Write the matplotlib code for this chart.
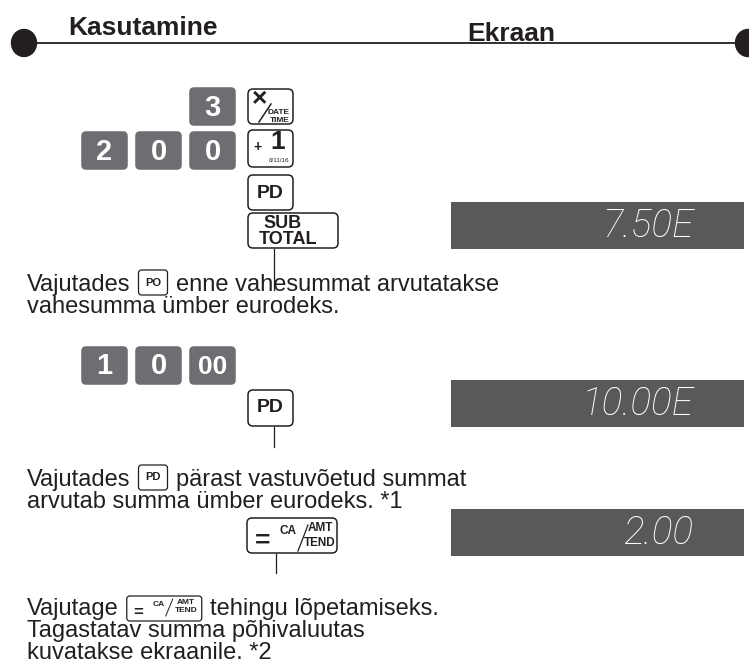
import matplotlib
matplotlib.use("Agg")
import matplotlib.pyplot as plt
from matplotlib.patches import FancyBboxPatch, Ellipse, Rectangle

# texts read from the page
header_left = "Kasutamine"
header_right = "Ekraan"
keys_row1 = ["3"]
keys_row2 = ["2", "0", "0"]
keys_row3 = ["1", "0", "00"]
display_values = ["7.50E", "10.00E", "2.00"]
para1 = [["Vajutades", ("PO",), "enne vahesummat arvutatakse"],
         ["vahesumma ümber eurodeks."]]
para2 = [["Vajutades", ("PD",), "pärast vastuvõetud summat"],
         ["arvutab summa ümber eurodeks. *1"]]
para3 = [["Vajutage", ("CA",), "tehingu lõpetamiseks."],
         ["Tagastatav summa põhivaluutas"],
         ["kuvatakse ekraanile. *2"]]

INK = "#231f20"
KEY_DARK = "#6d6e71"
LCD = "#58595b"
BODY = dict(family="Liberation Sans", fontsize=17, color=INK)

fig = plt.figure(figsize=(7.49, 6.66), dpi=100)
ax = fig.add_axes([0, 0, 1, 1])
ax.set_xlim(0, 749)
ax.set_ylim(666, 0)
ax.axis("off")
renderer = fig.canvas.get_renderer()

# header
ax.plot([24, 748], [43, 43], color=INK, lw=1.3)
ax.add_patch(Ellipse((24, 43), 25, 27, color=INK))
ax.add_patch(Ellipse((748, 43), 25, 27, color=INK))
ax.text(68, 35, header_left, family="Liberation Sans", fontweight="bold",
        fontsize=19, color=INK, va="baseline")
ax.text(467, 41, header_right, family="Liberation Sans", fontweight="bold",
        fontsize=19, color=INK, va="baseline")


def rbox(x, y, w, h, fill="white", edge=INK, r=5, lw=1.1):
    ax.add_patch(FancyBboxPatch((x, y), w, h,
                                boxstyle=f"round,pad=0,rounding_size={r}",
                                fc=fill, ec=edge, lw=lw))


def dark_key(x, y, label):
    rbox(x, y, 45, 37, fill=KEY_DARK, edge=KEY_DARK, r=4)
    size = 21 if len(label) == 1 else 19
    ax.text(x + 22.5, y + 19.5, label, family="Liberation Sans", fontweight="bold",
            fontsize=size, color="white", ha="center", va="center")


cols = [82, 136, 190]
for lab in keys_row1:
    dark_key(cols[2], 88, lab)
for cx, lab in zip(cols, keys_row2):
    dark_key(cx, 132, lab)
for cx, lab in zip(cols, keys_row3):
    dark_key(cx, 347, lab)

SMALL = dict(family="Liberation Sans", fontweight="bold", color=INK)

# x / DATE TIME key
rbox(248, 89, 45, 35)
ax.text(260, 99, "×", fontsize=19, ha="center", va="center", **SMALL)
ax.plot([259, 271], [122, 104], color=INK, lw=1.1)
ax.text(290, 112, "DATE", fontsize=6, ha="right", va="center", **SMALL)
ax.text(290, 120, "TIME", fontsize=6, ha="right", va="center", **SMALL)

# + 1 key
rbox(248, 130, 45, 37)
ax.text(257, 147, "+", fontsize=10, ha="center", va="center", **SMALL)
ax.text(278, 142, "1", fontsize=19, ha="center", va="center", **SMALL)
ax.text(279, 161, "6/11/16", family="Liberation Sans", fontsize=4.5, color=INK,
        ha="center", va="center")

# PD key
rbox(248, 175, 45, 35)
ax.text(270.5, 193, "PD", fontsize=14, ha="center", va="center", **SMALL)

# SUB TOTAL key
rbox(248, 213, 90, 35)
ax.text(263, 223, "SUB", fontsize=13, ha="left", va="center", **SMALL)
ax.text(259, 239, "TOTAL", fontsize=13, ha="left", va="center", **SMALL)
ax.plot([274, 274], [249, 290], color=INK, lw=0.9)

# PD key (second)
rbox(248, 390, 45, 36)
ax.text(270.5, 408, "PD", fontsize=14, ha="center", va="center", **SMALL)
ax.plot([274, 274], [427, 447], color=INK, lw=0.9)

# = CA/AMT TEND key
rbox(247, 518, 90, 35)
ax.text(263, 541, "=", fontsize=19, ha="center", va="center", **SMALL)
ax.text(288, 531, "CA", fontsize=8.5, ha="center", va="center", **SMALL)
ax.plot([298, 308], [551, 525], color=INK, lw=0.9)
ax.text(320, 528, "AMT", fontsize=8.5, ha="center", va="center", **SMALL)
ax.text(320, 543, "TEND", fontsize=8.5, ha="center", va="center", **SMALL)
ax.plot([276, 276], [554, 573], color=INK, lw=0.9)

# displays
for (top, val) in zip([202, 380, 509], display_values):
    ax.add_patch(Rectangle((451, top), 293, 47, color=LCD, lw=0))
    ax.text(694, top + 24, val, family="Roboto", fontweight="light", style="italic",
            fontsize=28, color="white", ha="right", va="center")


def inline_key(x, base, kind):
    if kind == "CA":
        w = 75
        rbox(x, base - 19, w, 25, r=3, lw=0.9)
        ax.text(x + 11, base - 3, "=", fontsize=12, ha="center", va="center", **SMALL)
        ax.text(x + 32, base - 11, "CA", fontsize=6, ha="center", va="center", **SMALL)
        ax.plot([x + 39, x + 46], [base + 1, base - 16], color=INK, lw=0.7)
        ax.text(x + 59, base - 13, "AMT", fontsize=6, ha="center", va="center", **SMALL)
        ax.text(x + 59, base - 4, "TEND", fontsize=6, ha="center", va="center", **SMALL)
    else:
        w = 29
        rbox(x, base - 21, w, 25, r=3, lw=0.9)
        ax.text(x + w / 2, base - 8.5, kind, fontsize=8, ha="center", va="center", **SMALL)
    return w


def paragraph(x0, base0, lines, step=22):
    for i, parts in enumerate(lines):
        x = x0
        base = base0 + i * step
        for part in parts:
            if isinstance(part, tuple):
                x += inline_key(x + 1, base, part[0]) + 9
            else:
                t = ax.text(x, base, part, va="baseline", **BODY)
                x += t.get_window_extent(renderer).width + 7


paragraph(27, 291, para1)
paragraph(27, 486, para2)
paragraph(27, 615, para3)

fig.savefig("out.png", dpi=100)
